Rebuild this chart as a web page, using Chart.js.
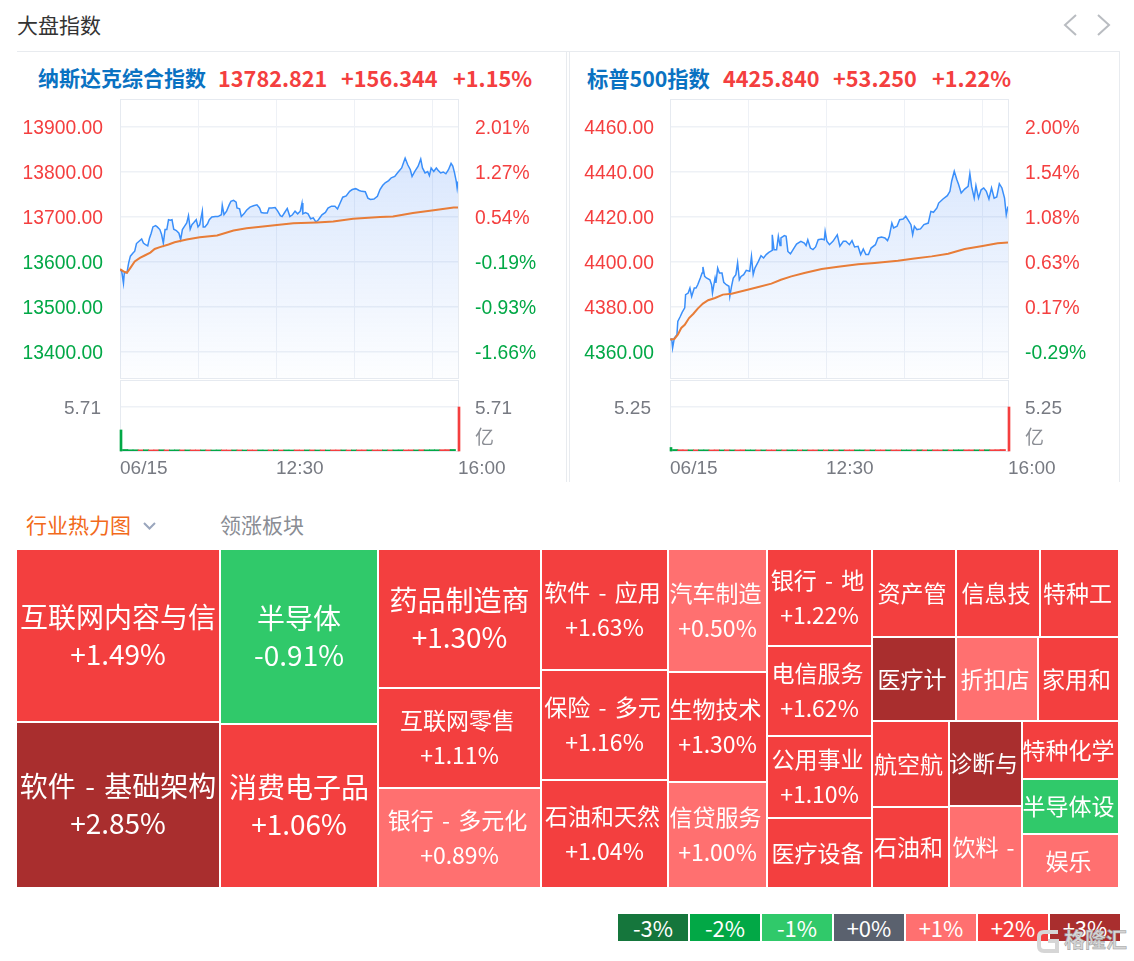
<!DOCTYPE html>
<html>
<head>
<meta charset="utf-8">
<script src="https://cdn.jsdelivr.net/npm/chart.js@4/dist/chart.umd.js"></script>
<style>
  html, body { margin: 0; background: #fff; }
  body { width: 1134px; height: 961px; position: relative; overflow: hidden;
         font-family: "Noto Sans CJK SC", "Liberation Sans", sans-serif; }
  canvas { position: absolute; }
  .abs { position: absolute; white-space: nowrap; line-height: 1; }
  .line { position: absolute; background: #e8ebef; }
  .idx { font-size: 21.7px; font-weight: 700; color: #f43f3f; top: 67px; }
  .idx.name { color: #0a72c2; font-size: 21px; }
  .unit { font-size: 19px; color: #8a8d94; top: 426px; }
  .legend-cell { position: absolute; top: 914px; width: 70px; height: 27px; color: #fff;
                 font-size: 22px; line-height: 27px; text-align: center; }
</style>
</head>
<body>
<div class="abs" style="left:17px;top:14px;font-size:21px;color:#333">大盘指数</div>
<svg class="abs" style="left:1060px;top:12px" width="56" height="26" fill="none" stroke="#b9bcc1" stroke-width="2">
  <path d="M16 3 L5 13 L16 23"/><path d="M38 3 L49 13 L38 23"/>
</svg>
<div class="line" style="left:17px;top:51px;width:1103px;height:1px"></div>
<div class="line" style="left:566px;top:51px;width:1px;height:431px"></div>
<div class="line" style="left:569px;top:51px;width:1px;height:431px"></div>
<div class="line" style="left:1119px;top:51px;width:1px;height:431px"></div>

<div class="abs idx name" style="left:38px">纳斯达克综合指数</div>
<div class="abs idx" style="left:218px">13782.821</div>
<div class="abs idx" style="left:341px">+156.344</div>
<div class="abs idx" style="left:453px">+1.15%</div>
<div class="abs idx name" style="left:587px;font-size:21.3px">标普500指数</div>
<div class="abs idx" style="left:723px">4425.840</div>
<div class="abs idx" style="left:833px">+53.250</div>
<div class="abs idx" style="left:932px">+1.22%</div>

<canvas id="nasdaqPrice" style="left:17px;top:90px"></canvas>
<canvas id="nasdaqVolume" style="left:17px;top:372px"></canvas>
<canvas id="spPrice" style="left:570px;top:90px"></canvas>
<canvas id="spVolume" style="left:570px;top:372px"></canvas>
<div class="abs unit" style="left:475px">亿</div>
<div class="abs unit" style="left:1025px">亿</div>

<div class="abs" style="left:26px;top:514px;font-size:21px;color:#f26a1b">行业热力图</div>
<svg class="abs" style="left:142px;top:521px" width="15" height="10" fill="none" stroke="#9aa6bd" stroke-width="2">
  <path d="M2 2 L7.5 7.5 L13 2"/>
</svg>
<div class="abs" style="left:220px;top:514px;font-size:21px;color:#8a8d94">领涨板块</div>

<canvas id="heatmap" style="left:17px;top:550px"></canvas>
<div id="legend"></div>
<div class="abs" style="left:1064px;top:928px;font-size:21px;font-weight:700;color:#d6d6d6;-webkit-text-stroke:0.5px #9a9a9a">格隆汇</div>
<svg class="abs" style="left:1036px;top:928px" width="26" height="26" fill="none" stroke="#d6d6d6" stroke-width="4">
  <path d="M22 4 H8 Q3 4 3 9 V18 Q3 23 8 23 H21 V13 H12"/>
</svg>

<script>
// --- Nasdaq composite, minutes after 09:30
const nasdaqMinutes = [0,2,4,5,8,10,12,15,17,19,22,25,27,29,32,34,36,38,41,43,46,48,50,52,54,56,58,60,62,65,68,70,72,74,77,79,81,83,85,88,90,92,95,96,98,101,103,106,110,113,117,118,120,123,126,128,131,134,135,138,140,143,146,150,154,158,161,163,166,170,172,175,179,182,185,187,190,193,196,199,202,205,208,210,211,214,217,220,223,226,229,233,237,240,244,248,251,254,257,261,265,268,272,276,279,283,286,289,293,297,300,303,306,310,313,317,321,325,327,329,332,335,337,340,344,347,349,352,355,357,359,362,365,367,370,373,376,379,382,384,386,388,389,390];
const nasdaqValues = [13583,13579,13553,13576,13576,13598,13613,13620,13624,13641,13646,13651,13642,13639,13636,13653,13664,13678,13681,13678,13672,13661,13642,13672,13672,13694,13693,13694,13673,13670,13664,13650,13672,13678,13687,13703,13673,13683,13687,13694,13678,13683,13713,13678,13678,13685,13694,13700,13701,13701,13705,13726,13705,13713,13727,13735,13737,13733,13720,13718,13701,13707,13715,13722,13725,13727,13720,13710,13709,13709,13720,13720,13721,13713,13703,13701,13710,13719,13701,13705,13713,13707,13713,13731,13707,13710,13707,13696,13698,13689,13694,13705,13710,13720,13724,13724,13718,13731,13744,13747,13757,13761,13763,13759,13757,13756,13742,13739,13740,13746,13761,13770,13776,13781,13787,13790,13800,13809,13820,13831,13816,13805,13790,13801,13813,13829,13809,13798,13801,13792,13809,13801,13809,13804,13798,13800,13796,13805,13819,13813,13798,13779,13764,13779];
const nasdaqAvgMinutes = [0,4,8,12,17,23,29,35,40,46,56,63,77,92,112,131,146,165,181,200,227,246,269,300,315,338,362,385,390];
const nasdaqAvgValues = [13584,13579,13576,13587,13601,13609,13615,13621,13629,13633,13639,13644,13650,13655,13659,13670,13675,13679,13682,13686,13688,13690,13696,13700,13701,13709,13715,13721,13721];
const nasdaqTicks = [13400,13500,13600,13700,13800,13900];
const nasdaqPctLabels = ['-1.66%','-0.93%','-0.19%','0.54%','1.27%','2.01%'];
const nasdaqPrevClose = 13626.477;
const nasdaqVolOpen = 2.73, nasdaqVolClose = 5.71;
const nasdaqVolMid = [.2,.16,.16,.15,.16,.14,.15,.16,.14,.14,.15,.14,.14,.14,.14,.14,.14,.13,.14,.14,.13,.14,.14,.13,.14,.13,.14,.13,.14,.14,.13,.14,.13,.14,.13,.14,.14,.13,.14,.13,.14,.14,.14,.13,.14,.14,.14,.14,.14,.14,.14,.14,.14,.15,.14,.15,.14,.16,.15,.16,.16,.17,.18,.2];
const nasdaqVolSigns = 'gggrgrrgrggrgrrgrggrrgrgrrggrgrggrrgrgrgrrgrgrrgrrgrggrrgrgggrr';

// --- S&P 500
const spMinutes = [0,2,3,5,8,9,12,14,17,18,21,23,25,28,30,32,35,37,38,40,42,46,48,49,51,52,53,55,57,60,62,65,68,69,71,73,76,78,80,82,85,88,92,94,96,98,102,105,108,111,114,118,118,120,123,125,127,128,132,134,136,139,142,146,151,155,157,159,162,165,168,171,175,178,179,181,184,188,193,196,200,203,207,210,213,217,220,223,226,229,232,237,240,244,248,251,253,256,258,262,265,269,272,275,278,280,282,285,289,293,298,301,304,308,310,315,320,323,325,328,331,333,336,340,344,346,348,351,353,356,359,362,365,368,371,374,377,380,383,386,388,390];
const spValues = [4365.5,4365.8,4361.8,4366.2,4367.7,4373.6,4375.9,4377.6,4379.6,4385.5,4386.2,4388.4,4384.7,4388.4,4388.4,4389.9,4392.9,4395.1,4397.8,4393.6,4392.9,4392.1,4389.9,4386.2,4390.7,4392.9,4390.7,4397.3,4395.1,4395.1,4391,4389.9,4389.2,4384.7,4389.2,4392.9,4394.4,4399.6,4392.1,4393.6,4394.4,4396.3,4395.9,4402.5,4394.4,4397.3,4400.3,4402.8,4401.8,4403.3,4404.3,4405.2,4412.1,4405.5,4405.5,4411.4,4407.3,4410.7,4411.7,4411.4,4404.7,4403.6,4405.5,4408,4409.2,4408.4,4407.3,4409.9,4406.2,4405.5,4406.7,4409.9,4410.2,4409.9,4413.6,4409.2,4407.7,4409.2,4412.1,4407,4409.2,4409.2,4407.7,4409.5,4406.7,4407,4403.3,4405.8,4403.3,4403.3,4406.2,4407.7,4410.7,4411.1,4410.7,4409.5,4411.4,4417.3,4415.1,4415.9,4418.8,4419.1,4420.3,4418.5,4416.6,4412.1,4415.9,4414.4,4414.7,4416.6,4417.3,4422.5,4422.1,4424,4426.2,4428,4429.5,4431.4,4435.9,4440.3,4436.6,4434.4,4430.7,4432.4,4433.6,4439.3,4433.6,4428.4,4433.9,4428.4,4432.1,4432.9,4431.4,4428,4432.9,4428.4,4428.9,4434.8,4432.9,4428.4,4421,4424.7];
const spAvgMinutes = [0,5,9,13,17,22,27,32,38,44,52,61,71,86,102,117,128,140,155,175,194,217,236,263,282,302,321,340,359,378,390];
const spAvgValues = [4365.5,4365.8,4367.7,4370.7,4372.1,4375.1,4377,4379.3,4381.5,4383,4384,4385.5,4385.9,4387.3,4388.9,4390.4,4392.1,4393.6,4395.1,4396.9,4397.9,4399,4399.6,4400.6,4401.6,4402.5,4403.7,4405.8,4407,4408.3,4408.7];
const spTicks = [4360,4380,4400,4420,4440,4460];
const spPctLabels = ['-0.29%','0.17%','0.63%','1.08%','1.54%','2.00%'];
const spPrevClose = 4372.59;
const spVolOpen = 0.42, spVolClose = 5.25;
const spVolMid = [.18,.15,.14,.14,.14,.14,.14,.13,.14,.13,.14,.13,.13,.14,.13,.13,.13,.13,.13,.13,.13,.13,.13,.13,.13,.13,.13,.13,.13,.13,.13,.13,.13,.13,.13,.13,.13,.13,.13,.13,.13,.13,.13,.13,.13,.13,.13,.14,.13,.13,.14,.13,.14,.13,.14,.14,.14,.14,.14,.14,.15,.15,.16,.18];
const spVolSigns = 'grrgrggrrgrgrrggrgrrgrggrgrrgrgrgrrggrgrrgrrggrgrgrrgrggrrgrgrrr';

// --- Heatmap
const sectorNames = ['互联网内容与信','软件 - 基础架构','半导体','消费电子品','药品制造商','互联网零售','银行 - 多元化','软件 - 应用','保险 - 多元','石油和天然','汽车制造','生物技术','信贷服务','银行 - 地','电信服务','公用事业','医疗设备','资产管','信息技','特种工','医疗计','折扣店','家用和','航空航','石油和','诊断与','饮料 -','特种化学','半导体设','娱乐'];
const sectorChanges = [1.49,2.85,-0.91,1.06,1.30,1.11,0.89,1.63,1.16,1.04,0.50,1.30,1.00,1.22,1.62,1.10,1.4,1.3,1.5,1.2,2.4,0.7,1.3,1.6,1.2,2.2,0.6,1.1,-0.5,0.8];
const sectorCaps = [35292,33864,27650,25912,22657,16300,16300,15367,13970,13716,12177,10890,10494,10185,9450,8610,7350,7392,7392,6952,7056,6888,6804,6622,6237,6205,5986,5626,5335,5238];
// nested sector indexes, the split direction alternates per level
const sectorTree = [[0,1],[2,3],[4,5,6],[7,8,9],[10,11,12],[13,14,15,16],[[17,18,19],[20,21,22],[[23,24],[25,26],[27,28,29]]]];

const legendLabels = ['-3%','-2%','-1%','+0%','+1%','+2%','+3%'];
const legendColors = ['#15763c','#02a846','#30c96a','#5a616e','#ff7070','#f33f3f','#a92e2e'];

const RED = '#f43f3f', GREEN = '#02a846', GREY = '#777a82';
const NUM_FONT = '"Liberation Sans", Arial, sans-serif';
const GRID = '#eef1f6';

// draws the thin box around a plot, under the marks
const framePlugin = {
    id: 'frame',
    beforeDatasetsDraw(chart) {
        const a = chart.chartArea, c = chart.ctx;
        c.save();
        c.strokeStyle = '#e6eaf0';
        c.lineWidth = 1;
        c.strokeRect(a.left + 0.5, a.top + 0.5, a.width, a.height);
        c.restore();
    }
};

// fixed axis box, no room kept for half labels so the plot lands where it should
function fixWidth(w) {
    return s => { s.width = w; s.paddingTop = 0; s.paddingBottom = 0; };
}
function fixHeight(h) {
    return s => { s.height = h; s.paddingLeft = 0; s.paddingRight = 0; };
}

function makePriceChart(id, o) {
    const el = document.getElementById(id);
    el.width = o.canvasWidth;
    el.height = 300;
    const yMin = o.ticks[0] - o.step * 26 / 45, yMax = o.ticks[5] + o.step * 28 / 45;
    new Chart(el, {
        type: 'line',
        data: {
            datasets: [
                {
                    data: o.minutes.map((m, i) => ({ x: m, y: o.values[i] })),
                    borderColor: '#3a8ffa', borderWidth: 1.5, pointRadius: 0, tension: 0, order: 2,
                    fill: 'start',
                    backgroundColor: ctx => {
                        const a = ctx.chart.chartArea;
                        if (!a) return 'transparent';
                        const g = ctx.chart.ctx.createLinearGradient(0, a.top, 0, a.bottom);
                        g.addColorStop(0, 'rgba(60,130,245,0.24)');
                        g.addColorStop(1, 'rgba(60,130,245,0.01)');
                        return g;
                    }
                },
                {
                    data: o.avgMinutes.map((m, i) => ({ x: m, y: o.avgValues[i] })),
                    borderColor: '#e87d38', borderWidth: 2, pointRadius: 0, tension: 0, order: 1, fill: false
                }
            ]
        },
        options: {
            responsive: false, animation: false,
            layout: { padding: { top: 9, bottom: 12, left: 0, right: 0 } },
            plugins: { legend: { display: false }, tooltip: { enabled: false } },
            scales: {
                x: {
                    type: 'linear', min: 0, max: 390,
                    afterBuildTicks: s => { s.ticks = [90, 180, 270, 360].map(v => ({ value: v })); },
                    afterFit: fixHeight(0),
                    grid: { color: GRID, drawTicks: false },
                    border: { display: false },
                    ticks: { display: false }
                },
                y: {
                    min: yMin, max: yMax,
                    afterBuildTicks: s => { s.ticks = o.ticks.map(v => ({ value: v })); },
                    afterFit: fixWidth(o.leftWidth),
                    grid: { color: GRID, lineWidth: 1.5, drawTicks: false },
                    border: { display: false },
                    ticks: {
                        padding: o.leftPad, labelOffset: 2,
                        font: { family: NUM_FONT, size: 19.3 },
                        callback: v => v.toFixed(2),
                        color: c => c.tick.value > o.prevClose ? RED : GREEN
                    }
                },
                y2: {
                    position: 'right', min: yMin, max: yMax,
                    afterBuildTicks: s => { s.ticks = o.ticks.map(v => ({ value: v })); },
                    afterFit: fixWidth(o.rightWidth),
                    grid: { display: false, drawTicks: false },
                    border: { display: false },
                    ticks: {
                        padding: 17, labelOffset: 2,
                        font: { family: NUM_FONT, size: 19.3 },
                        callback: v => o.pctLabels[o.ticks.indexOf(v)],
                        color: c => c.tick.value > o.prevClose ? RED : GREEN
                    }
                }
            }
        },
        plugins: [framePlugin]
    });
}

function makeVolumeChart(id, o) {
    const el = document.getElementById(id);
    el.width = o.canvasWidth;
    el.height = 110;
    const yMax = o.close * 71 / 44;
    const volFont = { family: NUM_FONT, size: 19 };
    new Chart(el, {
        type: 'bar',
        data: {
            datasets: [
                {
                    // opening and closing prints
                    data: [{ x: 1.15, y: o.open }, { x: 391.15, y: o.close }],
                    backgroundColor: [GREEN, RED], barThickness: 2, grouped: false, clip: false
                },
                {
                    data: o.mid.map((v, i) => ({ x: (i + 1) * 6, y: v })),
                    backgroundColor: o.mid.map((v, i) => o.signs[i] === 'r' ? RED : GREEN),
                    barThickness: 5.4, grouped: false
                }
            ]
        },
        options: {
            responsive: false, animation: false,
            layout: { padding: { top: 8 } },
            plugins: { legend: { display: false }, tooltip: { enabled: false } },
            scales: {
                x: {
                    type: 'linear', min: 0, max: 390, offset: false,
                    afterBuildTicks: s => { s.ticks = [0, 180, 390].map(v => ({ value: v })); },
                    afterFit: fixHeight(31),
                    grid: { display: false, drawTicks: false },
                    border: { display: false },
                    ticks: {
                        align: 'start', maxRotation: 0, autoSkip: false, padding: 6,
                        font: volFont, color: GREY,
                        callback: v => ({ 0: '06/15', 180: '12:30', 390: '16:00' })[v]
                    }
                },
                y: {
                    min: 0, max: yMax,
                    afterBuildTicks: s => { s.ticks = [{ value: o.close }]; },
                    afterFit: fixWidth(o.leftWidth),
                    grid: { color: GRID, lineWidth: 1.5, drawTicks: false },
                    border: { display: false },
                    ticks: { padding: 19, labelOffset: 2, font: volFont, color: GREY, callback: v => v.toFixed(2) }
                },
                y2: {
                    position: 'right', min: 0, max: yMax,
                    afterBuildTicks: s => { s.ticks = [{ value: o.close }]; },
                    afterFit: fixWidth(o.rightWidth),
                    grid: { display: false, drawTicks: false },
                    border: { display: false },
                    ticks: { padding: 17, labelOffset: 2, font: volFont, color: GREY, callback: v => v.toFixed(2) }
                }
            }
        },
        plugins: [framePlugin]
    });
}

makePriceChart('nasdaqPrice', {
    canvasWidth: 543, leftWidth: 103, rightWidth: 102, leftPad: 17, step: 100,
    minutes: nasdaqMinutes, values: nasdaqValues, avgMinutes: nasdaqAvgMinutes, avgValues: nasdaqAvgValues,
    ticks: nasdaqTicks, pctLabels: nasdaqPctLabels, prevClose: nasdaqPrevClose
});
makeVolumeChart('nasdaqVolume', {
    canvasWidth: 543, leftWidth: 103, rightWidth: 102,
    open: nasdaqVolOpen, close: nasdaqVolClose, mid: nasdaqVolMid, signs: nasdaqVolSigns
});
makePriceChart('spPrice', {
    canvasWidth: 540, leftWidth: 100, rightWidth: 102, leftPad: 16, step: 20,
    minutes: spMinutes, values: spValues, avgMinutes: spAvgMinutes, avgValues: spAvgValues,
    ticks: spTicks, pctLabels: spPctLabels, prevClose: spPrevClose
});
makeVolumeChart('spVolume', {
    canvasWidth: 540, leftWidth: 100, rightWidth: 102,
    open: spVolOpen, close: spVolClose, mid: spVolMid, signs: spVolSigns
});

// --- heatmap cells: weights become rectangles, the chart scales turn them into pixels
function capOf(node) {
    return Array.isArray(node) ? node.reduce((s, n) => s + capOf(n), 0) : sectorCaps[node];
}

function layoutTree(nodes, x0, y0, x1, y1, splitX, out) {
    const total = nodes.reduce((s, n) => s + capOf(n), 0);
    let pos = splitX ? x0 : y0;
    nodes.forEach(n => {
        const size = capOf(n) / total * (splitX ? x1 - x0 : y1 - y0);
        const r = splitX ? [pos, y0, pos + size, y1] : [x0, pos, x1, pos + size];
        if (Array.isArray(n)) layoutTree(n, r[0], r[1], r[2], r[3], !splitX, out);
        else out.push({ x: (r[0] + r[2]) / 2, y: (r[1] + r[3]) / 2, x0: r[0], y0: r[1], x1: r[2], y1: r[3], index: n });
        pos += size;
    });
    return out;
}

function cellColor(change) {
    // same seven buckets as the legend
    const bucket = change < 0 ? Math.floor(change) : Math.ceil(change);
    return legendColors[Math.min(3, Math.max(-3, bucket)) + 3];
}

const heatPlugin = {
    id: 'heatCells',
    afterDatasetsDraw(chart) {
        const c = chart.ctx, sx = chart.scales.x, sy = chart.scales.y;
        chart.data.datasets[0].data.forEach(d => {
            const l = Math.round(sx.getPixelForValue(d.x0)), r = Math.round(sx.getPixelForValue(d.x1)) - 2;
            const t = Math.round(sy.getPixelForValue(d.y0)), b = Math.round(sy.getPixelForValue(d.y1)) - 2;
            const w = r - l, h = b - t;
            const change = sectorChanges[d.index];
            c.fillStyle = cellColor(change);
            c.fillRect(l, t, w, h);

            const big = w >= 150 && h >= 130;
            const size = big ? 28 : 23;
            const pitch = big ? 37 : 35;
            const showChange = w >= 90 && h >= 70;
            const cx = l + w / 2, cy = t + h / 2;
            c.save();
            c.beginPath();
            c.rect(l, t, w, h);
            c.clip();
            c.fillStyle = '#fff';
            c.textAlign = 'center';
            c.textBaseline = 'middle';
            c.font = size + 'px "Noto Sans CJK SC", sans-serif';
            c.wordSpacing = '3px';
            c.fillText(sectorNames[d.index], big ? cx : cx - 2, showChange ? cy - pitch / 2 : cy);
            if (showChange) {
                c.fillText((change > 0 ? '+' : '') + change.toFixed(2) + '%', cx, cy + pitch / 2);
            }
            c.restore();
        });
    }
};

const heatEl = document.getElementById('heatmap');
heatEl.width = 1104;
heatEl.height = 339;
new Chart(heatEl, {
    type: 'scatter',
    data: { datasets: [{ data: layoutTree(sectorTree, 0, 0, 1103, 339, true, []), pointRadius: 0 }] },
    options: {
        responsive: false, animation: false,
        layout: { padding: 0 },
        plugins: { legend: { display: false }, tooltip: { enabled: false } },
        scales: {
            x: { display: false, min: 0, max: 1104 },
            y: { display: false, min: 0, max: 339, reverse: true }
        }
    },
    plugins: [heatPlugin]
});

// --- colour legend
const legendBox = document.getElementById('legend');
legendLabels.forEach((label, i) => {
    const cell = document.createElement('div');
    cell.className = 'legend-cell';
    cell.style.left = (618 + i * 72) + 'px';
    cell.style.background = legendColors[i];
    cell.textContent = label;
    legendBox.appendChild(cell);
});
</script>
</body>
</html>
